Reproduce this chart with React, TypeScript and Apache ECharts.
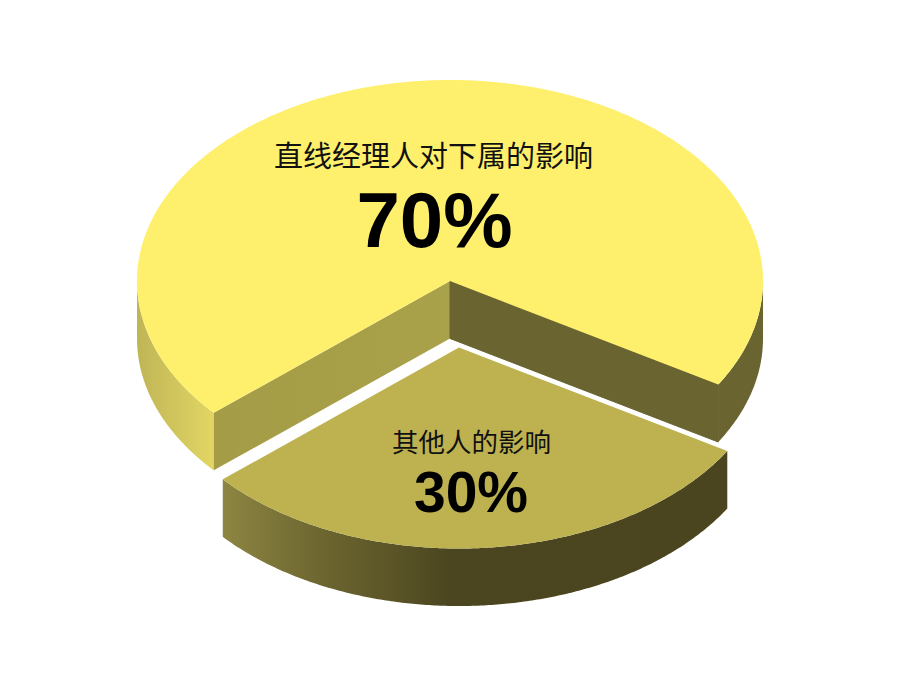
import React, { useEffect, useRef } from "react";
import * as echarts from "echarts";

const categories = ["直线经理人对下属的影响", "其他人的影响"];
const values = [70, 30];
const percentLabels = ["70%", "30%"];

const START_ANGLE = 139; // screen degrees, clockwise from +x, where the first slice begins
const RX = 313;
const RY = 201;
const DEPTH = 57.5;

const centers = [
  [450, 281],
  [459, 347.5],
];
const faceColors = ["#FEF06C", "#BDB24F"];
const nameLabelPos = [
  [433.5, 153.5, 29],
  [471.5, 440, 26.5],
];
const pctLabelPos = [
  [434.5, 219.5, 78],
  [471, 492, 57],
];

const rad = (d: number) => (d * Math.PI) / 180;

function grad(x0: number, x1: number, stops: [number, string][]) {
  return new echarts.graphic.LinearGradient(
    x0,
    0,
    x1,
    0,
    stops.map(([offset, color]) => ({ offset, color })),
    true
  );
}

export default function App() {
  const ref = useRef<HTMLDivElement>(null);
  useEffect(() => {
    const chart = echarts.init(ref.current!, undefined, { renderer: "svg" });
    const total = values.reduce((a, b) => a + b, 0);

    const renderItem = (params: any, api: any) => {
      const i = params.dataIndex;
      const before = values.slice(0, i).reduce((a, b) => a + b, 0);
      const a0 = START_ANGLE + (before / total) * 360;
      const a1 = a0 + (api.value(0) / total) * 360;
      const [cx, cy] = centers[i];
      const pt = (a: number, dy = 0) => [cx + RX * Math.cos(rad(a)), cy + dy + RY * Math.sin(rad(a))];
      const arc = (from: number, to: number, dy = 0) => {
        const n = Math.max(2, Math.ceil(Math.abs(to - from) * 2));
        return Array.from({ length: n + 1 }, (_, k) => pt(from + ((to - from) * k) / n, dy));
      };
      const poly = (points: number[][], fill: any, stroke?: string) => ({
        type: "polygon",
        shape: { points },
        style: stroke ? { fill, stroke, lineWidth: 1 } : { fill },
        silent: true,
      });
      // outer wall spanning angles from..to (front half of the ellipse only)
      const wall = (from: number, to: number, fill: any) =>
        poly([...arc(from, to), ...arc(to, from, DEPTH)], fill);
      const flat = (a: number, fill: any, stroke?: string) =>
        poly([[cx, cy], pt(a), pt(a, DEPTH), [cx, cy + DEPTH]], fill, stroke);

      const children: any[] = [];
      if (i === 0) {
        // cut faces, then the visible front walls either side of the gap
        children.push(
          wall(a0, 180, grad(cx - RX, cx - RX + 80, [[0, "#BFB556"], [1, "#E3D764"]]))
        );
        children.push(wall(360, a1, "#6A6431"));
        children.push(flat(a0, grad(cx - 236, cx, [[0, "#A49C46"], [1, "#A9A24A"]])));
        children.push(flat(a1 - 360, "#6A6431", "#6A6431"));
      } else {
        children.push(
          wall(a0, a1, grad(cx - 236, cx + 268, [[0, "#8D8541"], [0.2, "#6C6530"], [0.45, "#4B4620"], [1, "#4A451F"]]))
        );
      }
      children.push(poly([[cx, cy], ...arc(a0, a1)], faceColors[i]));
      const [nx, ny, ns] = nameLabelPos[i];
      const [px, py, ps] = pctLabelPos[i];
      children.push({
        type: "text",
        silent: true,
        style: {
          text: categories[i],
          x: nx,
          y: ny,
          fill: "#111",
          fontSize: ns,
          fontFamily: "'Noto Sans CJK SC'",
          align: "center",
          verticalAlign: "middle",
        },
      });
      children.push({
        type: "text",
        silent: true,
        style: {
          text: percentLabels[i],
          x: px,
          y: py,
          fill: "#000",
          fontSize: ps,
          fontWeight: "bold",
          fontFamily: "'Liberation Sans'",
          align: "center",
          verticalAlign: "middle",
        },
      });
      return { type: "group", children };
    };

    chart.setOption({
      animation: false,
      backgroundColor: "#fff",
      series: [
        {
          type: "custom",
          coordinateSystem: "none",
          silent: true,
          clip: false,
          data: values.map((v) => [v]),
          renderItem,
        },
      ],
    });
    return () => chart.dispose();
  }, []);
  return <div ref={ref} style={{ position: "fixed", left: 0, top: 0, width: 908, height: 675 }} />;
}
